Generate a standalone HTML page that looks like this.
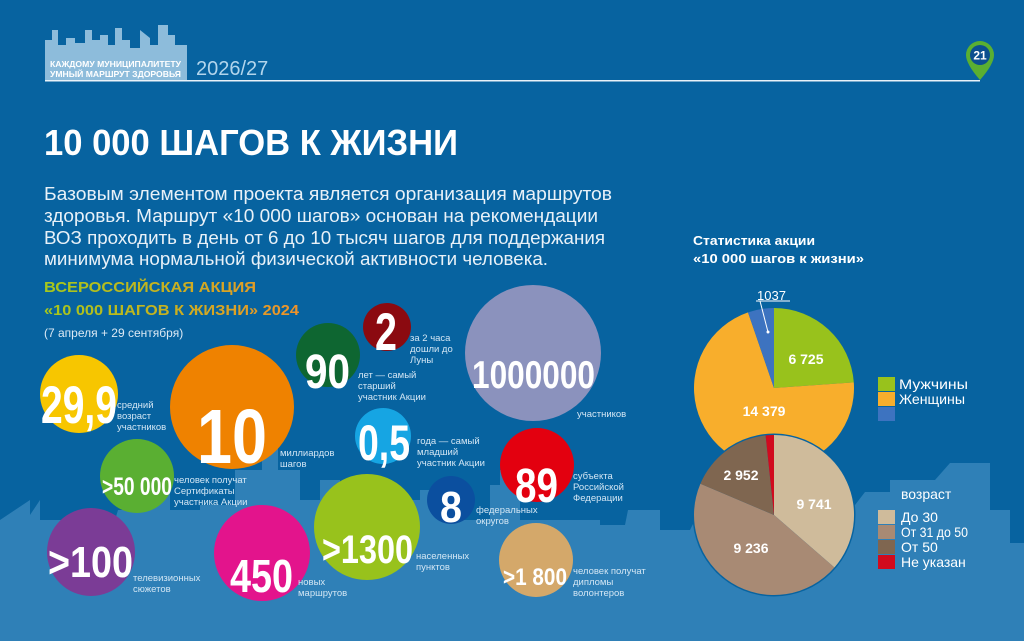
<!DOCTYPE html>
<html><head><meta charset="utf-8"><style>
html,body{margin:0;padding:0;background:#0763a0;}
svg{display:block;font-family:"Liberation Sans",sans-serif;}
.n{font-family:"Liberation Sans Narrow","Liberation Sans",sans-serif;font-weight:bold;fill:#fff;}
.s{font-size:9.5px;fill:#d3e6f4;}
.pl{font-size:14px;font-weight:bold;fill:#fff;text-anchor:middle;}
.lg{font-size:14px;fill:#fff;}
</style></head><body>
<svg width="1024" height="641" viewBox="0 0 1024 641">
<rect width="1024" height="641" fill="#0763a0"/>
<path fill="#2f80b7" d="M0,600 L0,520 L30,500 L30,515 L40,500 L40,520 L115,520 L118,510 L150,510 L150,480 L170,480 L170,510 L200,510 L200,505 L235,505 L235,470 L262,470 L262,440 L278,440 L278,470 L300,470 L300,500 L320,500 L320,480 L340,480 L340,500 L420,500 L420,490 L440,490 L440,520 L490,520 L490,485 L500,485 L500,470 L520,470 L520,520 L600,520 L600,525 L625,525 L628,510 L660,510 L660,530 L690,530 L700,510 L720,505 L855,505 L865,492 L890,492 L890,480 L935,480 L950,463 L990,463 L990,510 L1010,510 L1010,543 L1024,543 L1024,641 L0,641 Z"/>
<path fill="#8dbcdb" d="M45,80 L45,40 L52,40 L52,30 L58,30 L58,45 L66,45 L66,38 L75,38 L75,43 L85,43 L85,30 L92,30 L92,40 L100,40 L100,35 L108,35 L108,45 L115,45 L115,28 L122,28 L122,40 L130,40 L130,48 L140,48 L140,30 L150,38 L150,45 L158,45 L158,25 L168,25 L168,35 L175,35 L175,45 L187,45 L187,80 Z"/>
<text x="50" y="67" font-size="8.5" font-weight="bold" fill="#fff" textLength="131" lengthAdjust="spacingAndGlyphs">КАЖДОМУ МУНИЦИПАЛИТЕТУ</text>
<text x="50" y="77" font-size="8.5" font-weight="bold" fill="#fff" textLength="131" lengthAdjust="spacingAndGlyphs">УМНЫЙ МАРШРУТ ЗДОРОВЬЯ</text>
<text x="196" y="75" font-size="20" fill="#b2d5ec">2026/27</text>
<rect x="45" y="80" width="935" height="1.5" fill="#e8f2f9"/>
<path fill="#5aaf32" d="M966,55 A14,14 0 1 1 994,55 Q994,64 980,80 Q966,64 966,55 Z"/>
<circle cx="980" cy="55" r="10" fill="#0b4f8f"/>
<text x="980" y="59.5" font-size="12" font-weight="bold" fill="#fff" text-anchor="middle">21</text>
<text x="44" y="155" font-size="36" font-weight="bold" fill="#fff" textLength="414" lengthAdjust="spacingAndGlyphs">10 000 ШАГОВ К ЖИЗНИ</text>
<g font-size="18.5" fill="#e8f1f8">
<text x="44" y="200" textLength="568" lengthAdjust="spacingAndGlyphs">Базовым элементом проекта является организация маршрутов</text>
<text x="44" y="222" textLength="554" lengthAdjust="spacingAndGlyphs">здоровья. Маршрут «10 000 шагов» основан на рекомендации</text>
<text x="44" y="244" textLength="561" lengthAdjust="spacingAndGlyphs">ВОЗ проходить в день от 6 до 10 тысяч шагов для поддержания</text>
<text x="44" y="265" textLength="504" lengthAdjust="spacingAndGlyphs">минимума нормальной физической активности человека.</text>
</g>
<defs><linearGradient id="g" gradientUnits="userSpaceOnUse" x1="44" x2="300" y1="0" y2="0"><stop offset="0" stop-color="#a5c81c"/><stop offset="0.5" stop-color="#c8b020"/><stop offset="1" stop-color="#f0922a"/></linearGradient></defs>
<text x="44" y="292" font-size="15" font-weight="bold" fill="url(#g)" textLength="212" lengthAdjust="spacingAndGlyphs">ВСЕРОССИЙСКАЯ АКЦИЯ</text>
<text x="44" y="315" font-size="15" font-weight="bold" fill="url(#g)" textLength="255" lengthAdjust="spacingAndGlyphs">«10 000 ШАГОВ К ЖИЗНИ» 2024</text>
<text x="44" y="337" font-size="12" fill="#dce9f4">(7 апреля + 29 сентября)</text>
<circle cx="79" cy="394" r="39" fill="#f7c600"/>
<circle cx="232" cy="407" r="62" fill="#ef8200"/>
<circle cx="137" cy="476" r="37" fill="#5aaf32"/>
<circle cx="91" cy="552" r="44" fill="#7b3c96"/>
<circle cx="262" cy="553" r="48" fill="#e3148c"/>
<circle cx="328" cy="355" r="32" fill="#0e6631"/>
<circle cx="387" cy="327" r="24" fill="#8b0a10"/>
<circle cx="533" cy="353" r="68" fill="#8b92bd"/>
<circle cx="383" cy="436" r="28" fill="#16a5e3"/>
<circle cx="537" cy="465" r="37" fill="#e3000f"/>
<circle cx="451" cy="500" r="24" fill="#0b4f9f"/>
<circle cx="367" cy="527" r="53" fill="#98c21c"/>
<circle cx="536" cy="560" r="37" fill="#d4a86a"/>
<text class="n" x="41" y="423" font-size="53" textLength="76" lengthAdjust="spacingAndGlyphs">29,9</text>
<text class="n" x="197" y="463" font-size="77" textLength="70" lengthAdjust="spacingAndGlyphs">10</text>
<text class="n" x="102" y="495" font-size="25" textLength="70" lengthAdjust="spacingAndGlyphs">&gt;50 000</text>
<text class="n" x="48" y="577" font-size="44" textLength="85" lengthAdjust="spacingAndGlyphs">&gt;100</text>
<text class="n" x="230" y="592" font-size="46" textLength="63" lengthAdjust="spacingAndGlyphs">450</text>
<text class="n" x="305" y="388" font-size="48" textLength="45" lengthAdjust="spacingAndGlyphs">90</text>
<text class="n" x="375" y="350" font-size="53" textLength="22" lengthAdjust="spacingAndGlyphs">2</text>
<text class="n" x="472" y="388" font-size="39" textLength="123" lengthAdjust="spacingAndGlyphs">1000000</text>
<text class="n" x="358" y="460" font-size="50" textLength="52" lengthAdjust="spacingAndGlyphs">0,5</text>
<text class="n" x="515" y="502" font-size="48" textLength="43" lengthAdjust="spacingAndGlyphs">89</text>
<text class="n" x="440" y="522" font-size="44" textLength="22" lengthAdjust="spacingAndGlyphs">8</text>
<text class="n" x="322" y="563" font-size="40" textLength="91" lengthAdjust="spacingAndGlyphs">&gt;1300</text>
<text class="n" x="503" y="585" font-size="24" textLength="64" lengthAdjust="spacingAndGlyphs">&gt;1 800</text>
<g class="s">
<text x="117" y="408">средний</text><text x="117" y="419">возраст</text><text x="117" y="430">участников</text>
<text x="280" y="456">миллиардов</text><text x="280" y="467">шагов</text>
<text x="174" y="483">человек получат</text><text x="174" y="494">Сертификаты</text><text x="174" y="505">участника Акции</text>
<text x="133" y="581">телевизионных</text><text x="133" y="592">сюжетов</text>
<text x="298" y="585">новых</text><text x="298" y="596">маршрутов</text>
<text x="410" y="341">за 2 часа</text><text x="410" y="352">дошли до</text><text x="410" y="363">Луны</text>
<text x="358" y="378">лет — самый</text><text x="358" y="389">старший</text><text x="358" y="400">участник Акции</text>
<text x="577" y="417">участников</text>
<text x="417" y="444">года — самый</text><text x="417" y="455">младший</text><text x="417" y="466">участник Акции</text>
<text x="573" y="479">субъекта</text><text x="573" y="490">Российской</text><text x="573" y="501">Федерации</text>
<text x="476" y="513">федеральных</text><text x="476" y="524">округов</text>
<text x="416" y="559">населенных</text><text x="416" y="570">пунктов</text>
<text x="573" y="574">человек получат</text><text x="573" y="585">дипломы</text><text x="573" y="596">волонтеров</text>
</g>
<text x="693" y="245" font-size="13" font-weight="bold" fill="#fff" textLength="122" lengthAdjust="spacingAndGlyphs">Статистика акции</text>
<text x="693" y="263" font-size="13" font-weight="bold" fill="#fff" textLength="171" lengthAdjust="spacingAndGlyphs">«10 000 шагов к жизни»</text>
<path d="M774,388 L774,308 A80,80 0 0 1 853.8,382.4 Z" fill="#98c21c"/>
<path d="M774,388 L853.8,382.4 A80,80 0 1 1 748,312.4 Z" fill="#f8ae2c"/>
<path d="M774,388 L748,312.4 A80,80 0 0 1 774,308 Z" fill="#3d73c0"/>
<text x="757" y="300" font-size="13" fill="#fff">1037</text>
<path d="M756,301 L790,301 M760,301 L768,332" stroke="#fff" stroke-width="1" fill="none"/>
<circle cx="768" cy="332" r="1.5" fill="#fff"/>
<text class="pl" x="806" y="364">6 725</text>
<text class="pl" x="764" y="416">14 379</text>
<circle cx="774" cy="515" r="81.5" fill="#0763a0"/>
<path d="M774,515 L774,435 A80,80 0 0 1 834.4,567.5 Z" fill="#cfbb9b"/>
<path d="M774,515 L834.4,567.5 A80,80 0 0 1 700.4,483.7 Z" fill="#a88a74"/>
<path d="M774,515 L700.4,483.7 A80,80 0 0 1 765.6,435.4 Z" fill="#7f6650"/>
<path d="M774,515 L765.6,435.4 A80,80 0 0 1 774,435 Z" fill="#d10a1e"/>
<text class="pl" x="741" y="480">2 952</text>
<text class="pl" x="814" y="509">9 741</text>
<text class="pl" x="751" y="553">9 236</text>
<rect x="878" y="377" width="17" height="14" fill="#98c21c"/>
<rect x="878" y="392" width="17" height="14" fill="#f8ae2c"/>
<rect x="878" y="407" width="17" height="14" fill="#3d73c0"/>
<text class="lg" x="899" y="389" textLength="69" lengthAdjust="spacingAndGlyphs">Мужчины</text>
<text class="lg" x="899" y="404" textLength="66" lengthAdjust="spacingAndGlyphs">Женщины</text>
<text class="lg" x="901" y="499">возраст</text>
<rect x="878" y="510" width="17" height="14" fill="#cfbb9b"/>
<rect x="878" y="525" width="17" height="14" fill="#a88a74"/>
<rect x="878" y="540" width="17" height="14" fill="#7f6650"/>
<rect x="878" y="555" width="17" height="14" fill="#d10a1e"/>
<text class="lg" x="901" y="522">До 30</text>
<text class="lg" x="901" y="537" textLength="67" lengthAdjust="spacingAndGlyphs">От 31 до 50</text>
<text class="lg" x="901" y="552">От 50</text>
<text class="lg" x="901" y="567">Не указан</text>
</svg>
</body></html>
